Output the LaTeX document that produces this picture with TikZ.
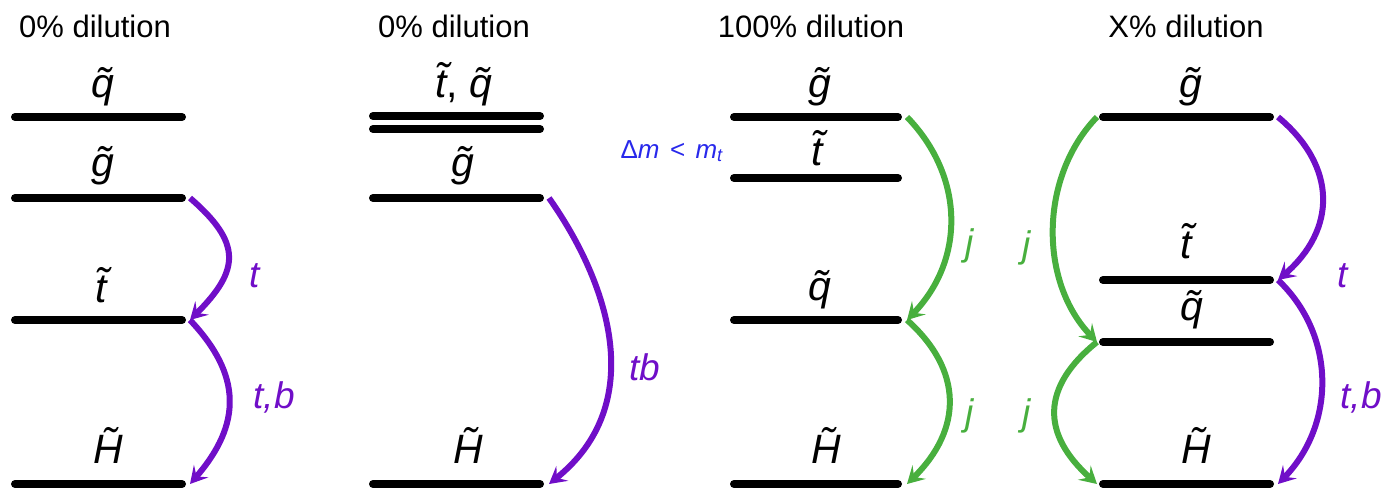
\documentclass[tikz,border=0pt]{standalone}
\usepackage{fontspec}
\setmainfont{Liberation Sans}
\usetikzlibrary{arrows.meta}
\definecolor{pur}{RGB}{112,14,200}
\definecolor{grn}{RGB}{72,175,62}
\definecolor{blu}{RGB}{40,40,235}
\newcommand\tld[1]{\textit{\~{#1}}}
\begin{document}
\begin{tikzpicture}[x=1pt,y=-1pt,
  level/.style={line width=8pt,line cap=round},
  decay/.style={line width=6pt,-{Stealth[length=17pt,width=19pt,inset=7pt]}},
  ttl/.style={font=\fontsize{31}{31}\selectfont,anchor=base,inner sep=0pt},
  lab/.style={font=\fontsize{41}{41}\selectfont,anchor=base,inner sep=0pt},
  dlab/.style={font=\fontsize{37}{37}\selectfont\itshape,anchor=base,inner sep=0pt}]
\useasboundingbox (0,0) rectangle (1389,490);
% ---------- panel 1
\node[ttl] (T1) at (95,37) {0\% dilution};
\coordinate (a1L) at (15,117); \coordinate (a1R) at (182,117);
\coordinate (b1L) at (15,198); \coordinate (b1R) at (182,198);
\coordinate (c1L) at (15,320); \coordinate (c1R) at (182,320);
\coordinate (d1L) at (15,484); \coordinate (d1R) at (182,484);
\foreach \n in {a1,b1,c1,d1} \draw[level] (\n L) -- (\n R);
\node[lab] (q1) at (103,97) {\tld{q}};
\node[lab] (g1) at (103,176) {\tld{g}};
\node[lab] (t1) at (101,302) {\tld{t}};
\node[lab] (H1) at (108,463) {\tld{H}};
\draw[decay,pur] ([xshift=8]b1R) .. controls +(52,45) and +(50,-50) .. ([xshift=8]c1R);
\draw[decay,pur] ([xshift=8]c1R) .. controls +(52,55) and +(52,-60) .. ([xshift=8]d1R);
\node[dlab,pur] (l1a) at (255,287) {t};
\node[dlab,pur] (l1b) at (274,408) {t,b};
% ---------- panel 2
\node[ttl] (T2) at (454,37) {0\% dilution};
\coordinate (a2L) at (373,116); \coordinate (a2R) at (540,116);
\coordinate (e2L) at (373,129); \coordinate (e2R) at (540,129);
\coordinate (b2L) at (373,198); \coordinate (b2R) at (540,198);
\coordinate (d2L) at (373,484); \coordinate (d2R) at (540,484);
\foreach \n in {a2,e2,b2,d2} \draw[level] (\n L) -- (\n R);
\node[lab] (tq2) at (464,97) {\tld{t}, \tld{q}};
\node[lab] (g2) at (463,176) {\tld{g}};
\node[lab] (H2) at (468,463) {\tld{H}};
\draw[decay,pur] ([xshift=9]b2R) .. controls +(60,85) and +(100,-80) .. ([xshift=9]d2R);
\node[dlab,pur] (l2) at (645,380) {tb};
% ---------- panel 3
\node[ttl] (T3) at (811,37) {100\% dilution};
\coordinate (a3L) at (734,117); \coordinate (a3R) at (898,117);
\coordinate (b3L) at (734,178); \coordinate (b3R) at (898,178);
\coordinate (c3L) at (734,320); \coordinate (c3R) at (898,320);
\coordinate (d3L) at (734,484); \coordinate (d3R) at (898,484);
\foreach \n in {a3,b3,c3,d3} \draw[level] (\n L) -- (\n R);
\node[lab] (g3) at (820,97) {\tld{g}};
\node[lab] (t3) at (817,165) {\tld{t}};
\node[lab] (q3) at (820,300) {\tld{q}};
\node[lab] (H3) at (826,463) {\tld{H}};
\node[font=\fontsize{26}{26}\selectfont,anchor=base,inner sep=0pt,text=blu] (dm) at (672,158)
  {Δ\textit{m}\hspace{0.4em}<\hspace{0.4em}\textit{m}\textsubscript{\textit{t}}};
\draw[decay,grn] ([xshift=9]a3R) .. controls +(58,60) and +(58,-60) .. ([xshift=9]c3R);
\draw[decay,grn] ([xshift=9]c3R) .. controls +(56,50) and +(56,-55) .. ([xshift=9]d3R);
\node[dlab,grn] (j3a) at (970,255) {j};
\node[dlab,grn] (j3b) at (970,425) {j};
% ---------- panel 4
\node[ttl] (T4) at (1186,37) {X\% dilution};
\coordinate (a4L) at (1103,117); \coordinate (a4R) at (1270,117);
\coordinate (b4L) at (1103,280); \coordinate (b4R) at (1270,280);
\coordinate (c4L) at (1103,342); \coordinate (c4R) at (1270,342);
\coordinate (d4L) at (1103,484); \coordinate (d4R) at (1270,484);
\foreach \n in {a4,b4,c4,d4} \draw[level] (\n L) -- (\n R);
\node[lab] (g4) at (1191,97) {\tld{g}};
\node[lab] (t4) at (1186,258) {\tld{t}};
\node[lab] (q4) at (1192,320) {\tld{q}};
\node[lab] (H4) at (1196,463) {\tld{H}};
\draw[decay,grn] ([xshift=-6]a4L) .. controls +(-58,60) and +(-58,-60) .. ([xshift=-6]c4L);
\draw[decay,grn] ([xshift=-6]c4L) .. controls +(-56,45) and +(-56,-50) .. ([xshift=-6]d4L);
\node[dlab,grn] (j4a) at (1027,257) {j};
\node[dlab,grn] (j4b) at (1027,425) {j};
\draw[decay,pur] ([xshift=8]a4R) .. controls +(60,50) and +(58,-50) .. ([xshift=8]b4R);
\draw[decay,pur] ([xshift=8]b4R) .. controls +(58,55) and +(58,-60) .. ([xshift=8]d4R);
\node[dlab,pur] (l4a) at (1343,287) {t};
\node[dlab,pur] (l4b) at (1361,408) {t,b};
\end{tikzpicture}
\end{document}
